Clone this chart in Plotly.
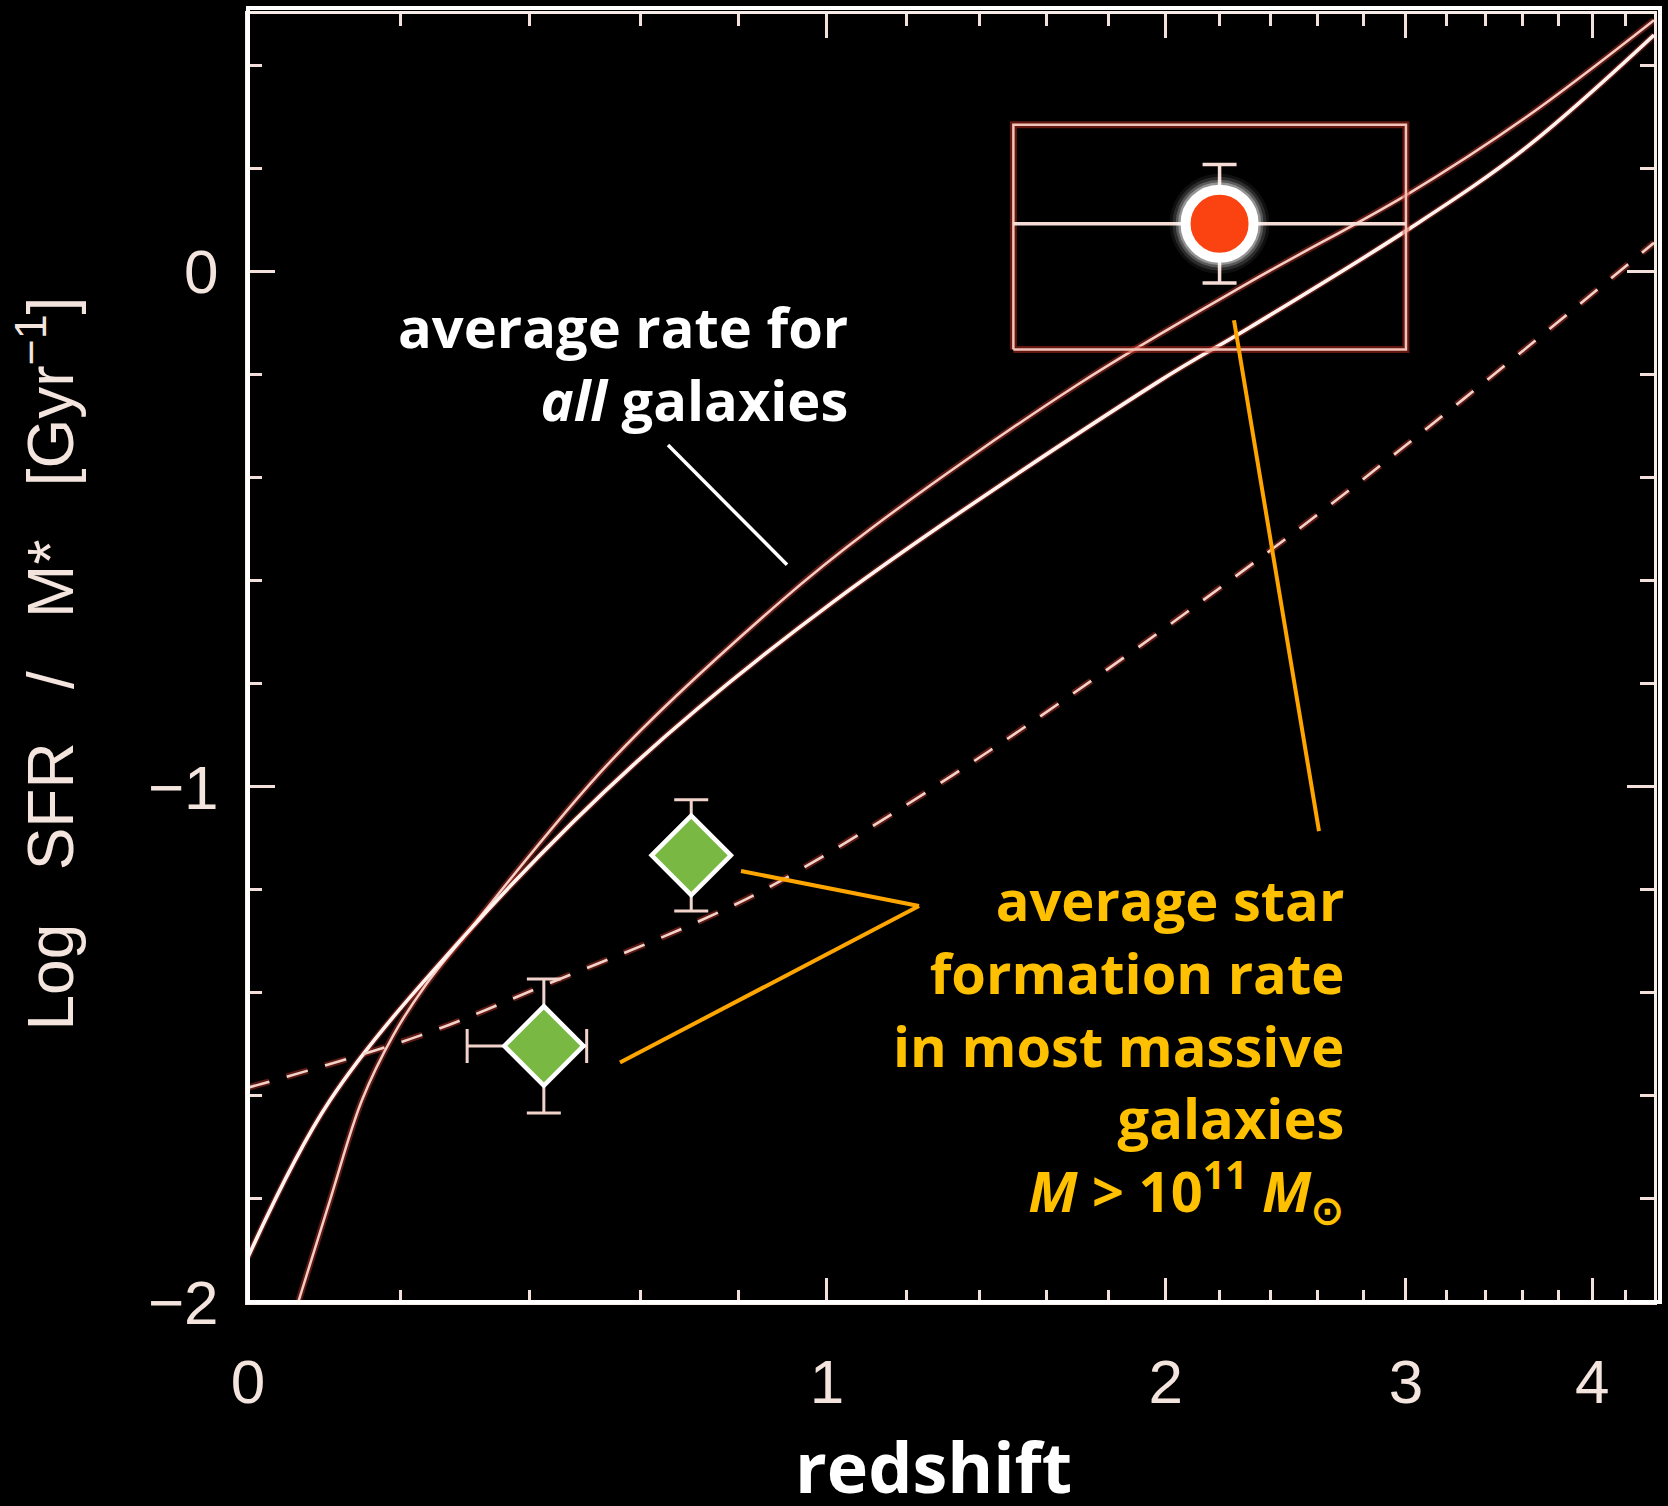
import math
import plotly.graph_objects as go

W, H = 1668, 1506

# ---- model curves: log specific star-formation rate vs redshift ----
z_model_a = [0.062, 0.103, 0.146, 0.1905, 0.2368, 0.301, 0.543, 0.891, 1.106, 1.698,
             2.319, 3.007, 3.62, 4.383]
lssfr_model_a = [-2.0, -1.803, -1.609, -1.481, -1.385, -1.282, -0.951, -0.641, -0.50, -0.22,
                 -0.02, 0.15, 0.30, 0.488]

z_model_b = [0.0, 0.103, 0.301, 0.593, 1.015, 1.970, 2.319, 3.007, 3.62, 4.383]
lssfr_model_b = [-1.913, -1.609, -1.282, -0.951, -0.641, -0.215, -0.108, 0.081, 0.241, 0.459]

z_model_c = [0.0, 0.2285, 0.431, 0.718, 0.891, 1.43, 2.404, 3.283, 4.383]
lssfr_model_c = [-1.584, -1.483, -1.383, -1.26, -1.183, -0.93, -0.540, -0.248, 0.056]

# ---- most massive galaxies (M > 1e11 Msun) ----
z_mass = [0.425, 0.70]
lssfr_mass = [-1.503, -1.133]
lssfr_mass_err = [0.13, 0.108]
z_mass_err_lo = [0.125, 0.0]
z_mass_err_hi = [0.075, 0.0]

z_hiz = [2.2]
lssfr_hiz = [0.093]
lssfr_hiz_err = [0.115]
z_hiz_range = [1.5, 3.0]
lssfr_hiz_range = [-0.151, 0.285]

# ---- axes ----
z_max = 4.383
y_range = [-2.0, 0.5]
z_major_ticks = [0, 1, 2, 3, 4]
z_minor_ticks = [0.2, 0.4, 0.6, 0.8, 1.2, 1.4, 1.6, 1.8, 2.2, 2.4, 2.6, 2.8,
                 3.2, 3.4, 3.6, 3.8, 4.2]
y_major_ticks = [-2, -1, 0]
y_major_labels = ["\u22122", "\u22121", "0"]
y_minor_ticks = [-1.8, -1.6, -1.4, -1.2, -0.8, -0.6, -0.4, -0.2, 0.2, 0.4]


def opz(zs):
    """Redshift -> 1+z, plotted on a logarithmic axis."""
    return [1.0 + z for z in zs]


# plot-area geometry in page pixels, used for the annotation leader lines
L, R, T, B = 248, 1654, 11, 1302


def px(x):
    return (x - L) / (R - L)


def py(y):
    return (B - y) / (B - T)


AXIS_COL = "#f8ece8"
TICK_COL = "#f4e0da"
GLOW = "rgba(205,55,40,0.45)"
SPLINE = dict(shape="spline", smoothing=1.0)

fig = go.Figure()

# glow under the curves
for zs, ys, dash in [(z_model_a, lssfr_model_a, "solid"),
                     (z_model_b, lssfr_model_b, "solid"),
                     (z_model_c, lssfr_model_c, "22px,18px")]:
    fig.add_trace(go.Scatter(x=opz(zs), y=ys, mode="lines", hoverinfo="skip",
                             line=dict(color=GLOW, width=6.5, dash=dash, **SPLINE)))

fig.add_trace(go.Scatter(x=opz(z_model_a), y=lssfr_model_a, mode="lines",
                         line=dict(color="#f3cdc5", width=2.5, **SPLINE)))
fig.add_trace(go.Scatter(x=opz(z_model_b), y=lssfr_model_b, mode="lines",
                         line=dict(color="#fff3ef", width=3.6, **SPLINE)))
fig.add_trace(go.Scatter(x=opz(z_model_c), y=lssfr_model_c, mode="lines",
                         line=dict(color="#f1d2ca", width=2.6, dash="22px,18px", **SPLINE)))

# redshift / sSFR range box around the high-z point
box_z = [z_hiz_range[0], z_hiz_range[1], z_hiz_range[1], z_hiz_range[0], z_hiz_range[0]]
box_y = [lssfr_hiz_range[0], lssfr_hiz_range[0], lssfr_hiz_range[1], lssfr_hiz_range[1],
         lssfr_hiz_range[0]]
fig.add_trace(go.Scatter(x=opz(box_z), y=box_y, mode="lines", hoverinfo="skip",
                         line=dict(color="rgba(200,45,30,0.5)", width=7)))
fig.add_trace(go.Scatter(x=opz(box_z), y=box_y, mode="lines",
                         line=dict(color="#f2c3b9", width=2.5)))

# high-z point with soft halo
fig.add_trace(go.Scatter(
    x=opz(z_hiz), y=lssfr_hiz, mode="markers",
    error_x=dict(type="data", symmetric=False,
                 array=[z_hiz_range[1] - z_hiz[0]],
                 arrayminus=[z_hiz[0] - z_hiz_range[0]],
                 color="#f6dcd6", thickness=3.5, width=0),
    error_y=dict(type="data", array=lssfr_hiz_err, color="#f6dcd6", thickness=3.5, width=17),
    marker=dict(size=1, color="rgba(0,0,0,0)")))
for s, a in [(100, 0.06), (94, 0.12), (88, 0.22), (83, 0.35)]:
    fig.add_trace(go.Scatter(x=opz(z_hiz), y=lssfr_hiz, mode="markers", hoverinfo="skip",
                             marker=dict(size=s, color=f"rgba(255,255,255,{a})",
                                         line=dict(width=0))))
fig.add_trace(go.Scatter(x=opz(z_hiz), y=lssfr_hiz, mode="markers",
                         marker=dict(size=68, color="#fb4312",
                                     line=dict(color="white", width=10))))

# massive galaxies at low redshift
fig.add_trace(go.Scatter(
    x=opz(z_mass), y=lssfr_mass, mode="markers",
    error_x=dict(type="data", symmetric=False, array=z_mass_err_hi, arrayminus=z_mass_err_lo,
                 color="#f2d3cc", thickness=3, width=17),
    error_y=dict(type="data", array=lssfr_mass_err, color="#f2d3cc", thickness=3, width=17),
    marker=dict(symbol="diamond", size=61, color="#79b943",
                line=dict(color="white", width=4.5))))

axis_font = dict(family="Liberation Sans, Arial, sans-serif", size=62, color="#f4e4de")

fig.update_layout(
    width=W, height=H, autosize=False,
    margin=dict(l=L, r=W - R, t=T, b=H - B, pad=0),
    paper_bgcolor="black", plot_bgcolor="black",
    showlegend=False,
    xaxis=dict(
        type="log", range=[0, math.log10(1 + z_max)],
        tickmode="array", tickvals=opz(z_major_ticks), ticktext=[str(z) for z in z_major_ticks],
        ticks="inside", ticklen=24, tickwidth=3, tickcolor=TICK_COL,
        showline=True, linecolor=AXIS_COL, linewidth=3, mirror="ticks",
        showgrid=False, zeroline=False, tickfont=axis_font, ticklabelstandoff=24,
        minor=dict(tickmode="array", tickvals=opz(z_minor_ticks), ticks="inside",
                   ticklen=12, tickwidth=2.5, tickcolor=TICK_COL, showgrid=False),
    ),
    yaxis=dict(
        range=y_range,
        tickmode="array", tickvals=y_major_ticks, ticktext=y_major_labels,
        ticks="inside", ticklen=27, tickwidth=3, tickcolor=TICK_COL,
        showline=True, linecolor=AXIS_COL, linewidth=3, mirror="ticks",
        showgrid=False, zeroline=False, tickfont=axis_font, ticklabelstandoff=14,
        minor=dict(tickmode="array", tickvals=y_minor_ticks, ticks="inside",
                   ticklen=14, tickwidth=2.5, tickcolor=TICK_COL, showgrid=False),
    ),
)

# outer frame (thick on left/bottom, offset outward on top/right)
fig.add_shape(type="rect", xref="paper", yref="paper",
              x0=px(248), x1=px(1660), y0=py(1302), y1=py(5),
              line=dict(color="white", width=4), fillcolor="rgba(0,0,0,0)", layer="above")

# leader lines
fig.add_shape(type="line", xref="paper", yref="paper",
              x0=px(668), y0=py(443), x1=px(787), y1=py(563),
              line=dict(color="white", width=3.5))
ORANGE = "#ffa500"
for (x0, y0, x1, y1) in [(1234, 318, 1319, 830), (741, 870, 919, 905), (620, 1062, 919, 905)]:
    fig.add_shape(type="line", xref="paper", yref="paper",
                  x0=px(x0), y0=py(y0), x1=px(x1), y1=py(y1),
                  line=dict(color=ORANGE, width=4))

label_font = "Open Sans, Lato, sans-serif"

fig.add_annotation(xref="paper", yref="paper", x=px(850), y=py(360),
                   xanchor="right", yanchor="middle", align="right", showarrow=False,
                   text="<b>average rate for<br><i>all</i> galaxies</b>",
                   font=dict(family=label_font, size=56, color="white"))

fig.add_annotation(xref="paper", yref="paper", x=px(1346), y=py(1047),
                   xanchor="right", yanchor="middle", align="right", showarrow=False,
                   text=("<b>average star<br>formation rate<br>in most massive<br>galaxies<br>"
                         "<i>M</i> &gt; 10<sup>11</sup> <i>M</i><sub>\u2299</sub></b>"),
                   font=dict(family=label_font, size=56, color="#ffc000"))

fig.add_annotation(xref="paper", yref="paper", x=px(47), y=py(662),
                   xanchor="center", yanchor="middle", textangle=-90, showarrow=False,
                   text=("Log\u00a0\u00a0\u00a0SFR\u00a0\u00a0\u00a0/\u00a0\u00a0\u00a0M*"
                         "\u00a0\u00a0\u00a0[Gyr<sup>\u22121</sup>]"),
                   font=dict(family="Liberation Sans, Arial, sans-serif", size=64,
                             color="#f4e4de"))

fig.add_annotation(xref="paper", yref="paper", x=px(933), y=py(1466),
                   xanchor="center", yanchor="middle", showarrow=False,
                   text="<b>redshift</b>",
                   font=dict(family=label_font, size=70, color="white"))

fig.write_html("out.html", post_script="document.body.style.margin='0';")
